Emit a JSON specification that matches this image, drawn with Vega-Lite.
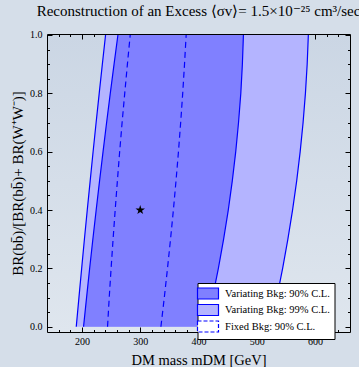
{
  "$schema": "https://vega.github.io/schema/vega-lite/v6.json",
  "width": 303,
  "height": 298,
  "autosize": {"type": "none"},
  "padding": {"left": 47, "top": 34, "right": 9, "bottom": 35},
  "background": "#d5dee9",
  "title": {
    "text": "Reconstruction of an Excess ⟨σv⟩= 1.5×10⁻²⁵ cm³/sec",
    "font": "Liberation Serif",
    "fontSize": 15,
    "fontWeight": "normal",
    "color": "#000000",
    "anchor": "middle",
    "baseline": "alphabetic",
    "offset": -1
  },
  "datasets": {
    "contours": [
      {"y": 0.0, "band": "Variating Bkg: 99% C.L.", "lo": 190.2, "hi": 523.4},
      {"y": 0.1, "band": "Variating Bkg: 99% C.L.", "lo": 194.8, "hi": 534.4},
      {"y": 0.2, "band": "Variating Bkg: 99% C.L.", "lo": 199.5, "hi": 544.4},
      {"y": 0.3, "band": "Variating Bkg: 99% C.L.", "lo": 204.2, "hi": 553.4},
      {"y": 0.4, "band": "Variating Bkg: 99% C.L.", "lo": 209.1, "hi": 561.4},
      {"y": 0.5, "band": "Variating Bkg: 99% C.L.", "lo": 214.1, "hi": 568.5},
      {"y": 0.6, "band": "Variating Bkg: 99% C.L.", "lo": 219.1, "hi": 574.5},
      {"y": 0.7, "band": "Variating Bkg: 99% C.L.", "lo": 224.3, "hi": 579.5},
      {"y": 0.8, "band": "Variating Bkg: 99% C.L.", "lo": 229.6, "hi": 583.5},
      {"y": 0.9, "band": "Variating Bkg: 99% C.L.", "lo": 235.0, "hi": 586.5},
      {"y": 1.0, "band": "Variating Bkg: 99% C.L.", "lo": 240.5, "hi": 588.5},
      {"y": 0.0, "band": "Variating Bkg: 90% C.L.", "lo": 202.7, "hi": 412.9},
      {"y": 0.1, "band": "Variating Bkg: 90% C.L.", "lo": 207.9, "hi": 424.0},
      {"y": 0.2, "band": "Variating Bkg: 90% C.L.", "lo": 213.2, "hi": 434.1},
      {"y": 0.3, "band": "Variating Bkg: 90% C.L.", "lo": 218.7, "hi": 443.1},
      {"y": 0.4, "band": "Variating Bkg: 90% C.L.", "lo": 224.4, "hi": 451.1},
      {"y": 0.5, "band": "Variating Bkg: 90% C.L.", "lo": 230.2, "hi": 458.0},
      {"y": 0.6, "band": "Variating Bkg: 90% C.L.", "lo": 236.2, "hi": 463.9},
      {"y": 0.7, "band": "Variating Bkg: 90% C.L.", "lo": 242.3, "hi": 468.7},
      {"y": 0.8, "band": "Variating Bkg: 90% C.L.", "lo": 248.6, "hi": 472.6},
      {"y": 0.9, "band": "Variating Bkg: 90% C.L.", "lo": 255.1, "hi": 475.3},
      {"y": 1.0, "band": "Variating Bkg: 90% C.L.", "lo": 261.7, "hi": 477.1},
      {"y": 0.0, "band": "Fixed Bkg: 90% C.L.", "lo": 243.9, "hi": 335.5},
      {"y": 0.1, "band": "Fixed Bkg: 90% C.L.", "lo": 246.8, "hi": 341.3},
      {"y": 0.2, "band": "Fixed Bkg: 90% C.L.", "lo": 250.0, "hi": 346.8},
      {"y": 0.3, "band": "Fixed Bkg: 90% C.L.", "lo": 253.4, "hi": 352.0},
      {"y": 0.4, "band": "Fixed Bkg: 90% C.L.", "lo": 257.0, "hi": 356.9},
      {"y": 0.5, "band": "Fixed Bkg: 90% C.L.", "lo": 260.8, "hi": 361.4},
      {"y": 0.6, "band": "Fixed Bkg: 90% C.L.", "lo": 264.7, "hi": 365.6},
      {"y": 0.7, "band": "Fixed Bkg: 90% C.L.", "lo": 268.9, "hi": 369.4},
      {"y": 0.8, "band": "Fixed Bkg: 90% C.L.", "lo": 273.4, "hi": 372.9},
      {"y": 0.9, "band": "Fixed Bkg: 90% C.L.", "lo": 278.0, "hi": 376.0},
      {"y": 1.0, "band": "Fixed Bkg: 90% C.L.", "lo": 282.8, "hi": 378.8}
    ],
    "benchmark": [
      {"mass": 300, "br": 0.4}
    ]
  },
  "resolve": {"axis": {"x": "independent", "y": "independent"}},
  "layer": [
    {
      "data": {"name": "contours"},
      "transform": [{"filter": "datum.band === 'Variating Bkg: 99% C.L.'"}],
      "mark": {"type": "area", "orient": "horizontal", "opacity": 1},
      "encoding": {
        "y": {
          "field": "y", "type": "quantitative",
          "scale": {"domain": [-0.018, 1.0034], "nice": false, "zero": false},
          "axis": {
            "orient": "left",
            "values": [0, 0.2, 0.4, 0.6, 0.8, 1.0],
            "format": ".1f",
            "tickSize": -5,
            "labelPadding": 10,
            "title": "BR(bb̄)/[BR(bb̄)+ BR(W⁺W⁻)]",
            "titleFontSize": 15,
            "titlePadding": 4
          }
        },
        "x": {
          "field": "lo", "type": "quantitative", "stack": null,
          "scale": {"domain": [140, 660], "nice": false, "zero": false},
          "axis": {
            "orient": "bottom",
            "values": [200, 300, 400, 500, 600],
            "tickSize": -5,
            "labelPadding": 9.5,
            "title": "DM mass mDM [GeV]",
            "titleFontSize": 14.5,
            "titlePadding": 7
          }
        },
        "x2": {"field": "hi"},
        "fill": {
          "field": "band", "type": "nominal",
          "scale": {
            "domain": ["Variating Bkg: 90% C.L.", "Variating Bkg: 99% C.L.", "Fixed Bkg: 90% C.L."],
            "range": ["#8080ff", "#b4b4ff", "#ffffff"]
          },
          "legend": {
            "orient": "none", "legendX": 150.5, "legendY": 249, "title": null,
            "labelExpr": "datum.label + '   '",
            "encode": {
              "symbols": {
                "update": {
                  "strokeDash": {"signal": "datum.value === 'Fixed Bkg: 90% C.L.' ? [4, 2] : [1, 0]"}
                }
              }
            }
          }
        }
      }
    },
    {
      "data": {"name": "contours"},
      "transform": [{"filter": "datum.band === 'Variating Bkg: 90% C.L.'"}],
      "mark": {"type": "area", "orient": "horizontal", "opacity": 1},
      "encoding": {
        "y": {
          "field": "y", "type": "quantitative",
          "scale": {"domain": [-0.018, 1.0034], "nice": false, "zero": false},
          "axis": {
            "orient": "left",
            "values": [0, 0.05, 0.1, 0.15, 0.2, 0.25, 0.3, 0.35, 0.4, 0.45, 0.5, 0.55, 0.6, 0.65, 0.7, 0.75, 0.8, 0.85, 0.9, 0.95, 1.0],
            "tickSize": -2.5,
            "labels": false,
            "title": null
          }
        },
        "x": {
          "field": "lo", "type": "quantitative", "stack": null,
          "scale": {"domain": [140, 660], "nice": false, "zero": false},
          "axis": {
            "orient": "bottom",
            "values": [160, 180, 200, 220, 240, 260, 280, 300, 320, 340, 360, 380, 400, 420, 440, 460, 480, 500, 520, 540, 560, 580, 600, 620, 640],
            "tickSize": -2.5,
            "labels": false,
            "title": null
          }
        },
        "x2": {"field": "hi"},
        "fill": {
          "field": "band", "type": "nominal",
          "scale": {
            "domain": ["Variating Bkg: 90% C.L.", "Variating Bkg: 99% C.L.", "Fixed Bkg: 90% C.L."],
            "range": ["#8080ff", "#b4b4ff", "#ffffff"]
          }
        }
      }
    },
    {
      "data": {"name": "contours"},
      "transform": [
        {"filter": "datum.band !== 'Fixed Bkg: 90% C.L.'"},
        {"fold": ["lo", "hi"], "as": ["side", "xv"]}
      ],
      "mark": {"type": "line", "color": "#0000ff", "strokeWidth": 1.2},
      "encoding": {
        "y": {
          "field": "y", "type": "quantitative",
          "scale": {"domain": [-0.018, 1.0034], "nice": false, "zero": false},
          "axis": {
            "orient": "right",
            "values": [0, 0.2, 0.4, 0.6, 0.8, 1.0],
            "tickSize": -5,
            "labels": false,
            "title": null
          }
        },
        "x": {
          "field": "xv", "type": "quantitative",
          "scale": {"domain": [140, 660], "nice": false, "zero": false},
          "axis": {
            "orient": "top",
            "values": [200, 300, 400, 500, 600],
            "tickSize": -5,
            "labels": false,
            "title": null
          }
        },
        "detail": [{"field": "band"}, {"field": "side"}],
        "order": {"field": "y", "type": "quantitative"}
      }
    },
    {
      "data": {"name": "contours"},
      "transform": [
        {"filter": "datum.band === 'Fixed Bkg: 90% C.L.'"},
        {"fold": ["lo", "hi"], "as": ["side", "xv"]}
      ],
      "mark": {"type": "line", "color": "#0000ff", "strokeWidth": 1.2, "strokeDash": [6, 4]},
      "encoding": {
        "y": {
          "field": "y", "type": "quantitative",
          "scale": {"domain": [-0.018, 1.0034], "nice": false, "zero": false},
          "axis": {
            "orient": "right",
            "values": [0, 0.05, 0.1, 0.15, 0.2, 0.25, 0.3, 0.35, 0.4, 0.45, 0.5, 0.55, 0.6, 0.65, 0.7, 0.75, 0.8, 0.85, 0.9, 0.95, 1.0],
            "tickSize": -2.5,
            "labels": false,
            "title": null
          }
        },
        "x": {
          "field": "xv", "type": "quantitative",
          "scale": {"domain": [140, 660], "nice": false, "zero": false},
          "axis": {
            "orient": "top",
            "values": [160, 180, 200, 220, 240, 260, 280, 300, 320, 340, 360, 380, 400, 420, 440, 460, 480, 500, 520, 540, 560, 580, 600, 620, 640],
            "tickSize": -2.5,
            "labels": false,
            "title": null
          }
        },
        "detail": {"field": "side"},
        "order": {"field": "y", "type": "quantitative"}
      }
    },
    {
      "data": {"name": "benchmark"},
      "mark": {
        "type": "point",
        "shape": "M0,-1L0.2245,-0.309L0.951,-0.309L0.363,0.118L0.588,0.809L0,0.382L-0.588,0.809L-0.363,0.118L-0.951,-0.309L-0.2245,-0.309Z",
        "filled": true, "color": "#000000", "size": 100, "opacity": 1
      },
      "encoding": {
        "x": {"field": "mass", "type": "quantitative", "scale": {"domain": [140, 660], "nice": false, "zero": false}, "axis": null},
        "y": {"field": "br", "type": "quantitative", "scale": {"domain": [-0.018, 1.0034], "nice": false, "zero": false}, "axis": null}
      }
    }
  ],
  "config": {
    "view": {
      "stroke": "#000000",
      "strokeWidth": 1,
      "fill": {
        "gradient": "linear", "x1": 0, "y1": 0, "x2": 0, "y2": 1,
        "stops": [
          {"offset": 0, "color": "#cbd6e4"},
          {"offset": 1, "color": "#dfe6ee"}
        ]
      }
    },
    "axis": {
      "grid": false,
      "domain": false,
      "tickColor": "#000000",
      "tickWidth": 1,
      "labelFont": "Liberation Serif",
      "labelFontSize": 10,
      "labelColor": "#000000",
      "titleFont": "Liberation Serif",
      "titleFontWeight": "normal",
      "titleColor": "#000000",
      "zindex": 1
    },
    "legend": {
      "fillColor": "#ffffff",
      "strokeColor": "#000000",
      "padding": 4,
      "cornerRadius": 0,
      "symbolType": "M-1.909,-1H1.909V1H-1.909Z",
      "symbolSize": 121,
      "symbolStrokeColor": "#0000ff",
      "symbolStrokeWidth": 1.2,
      "symbolOpacity": 1,
      "labelFont": "Liberation Serif",
      "labelFontSize": 10.5,
      "labelColor": "#000000",
      "labelOffset": 10.6,
      "rowPadding": -0.5,
      "zindex": 2
    }
  }
}
